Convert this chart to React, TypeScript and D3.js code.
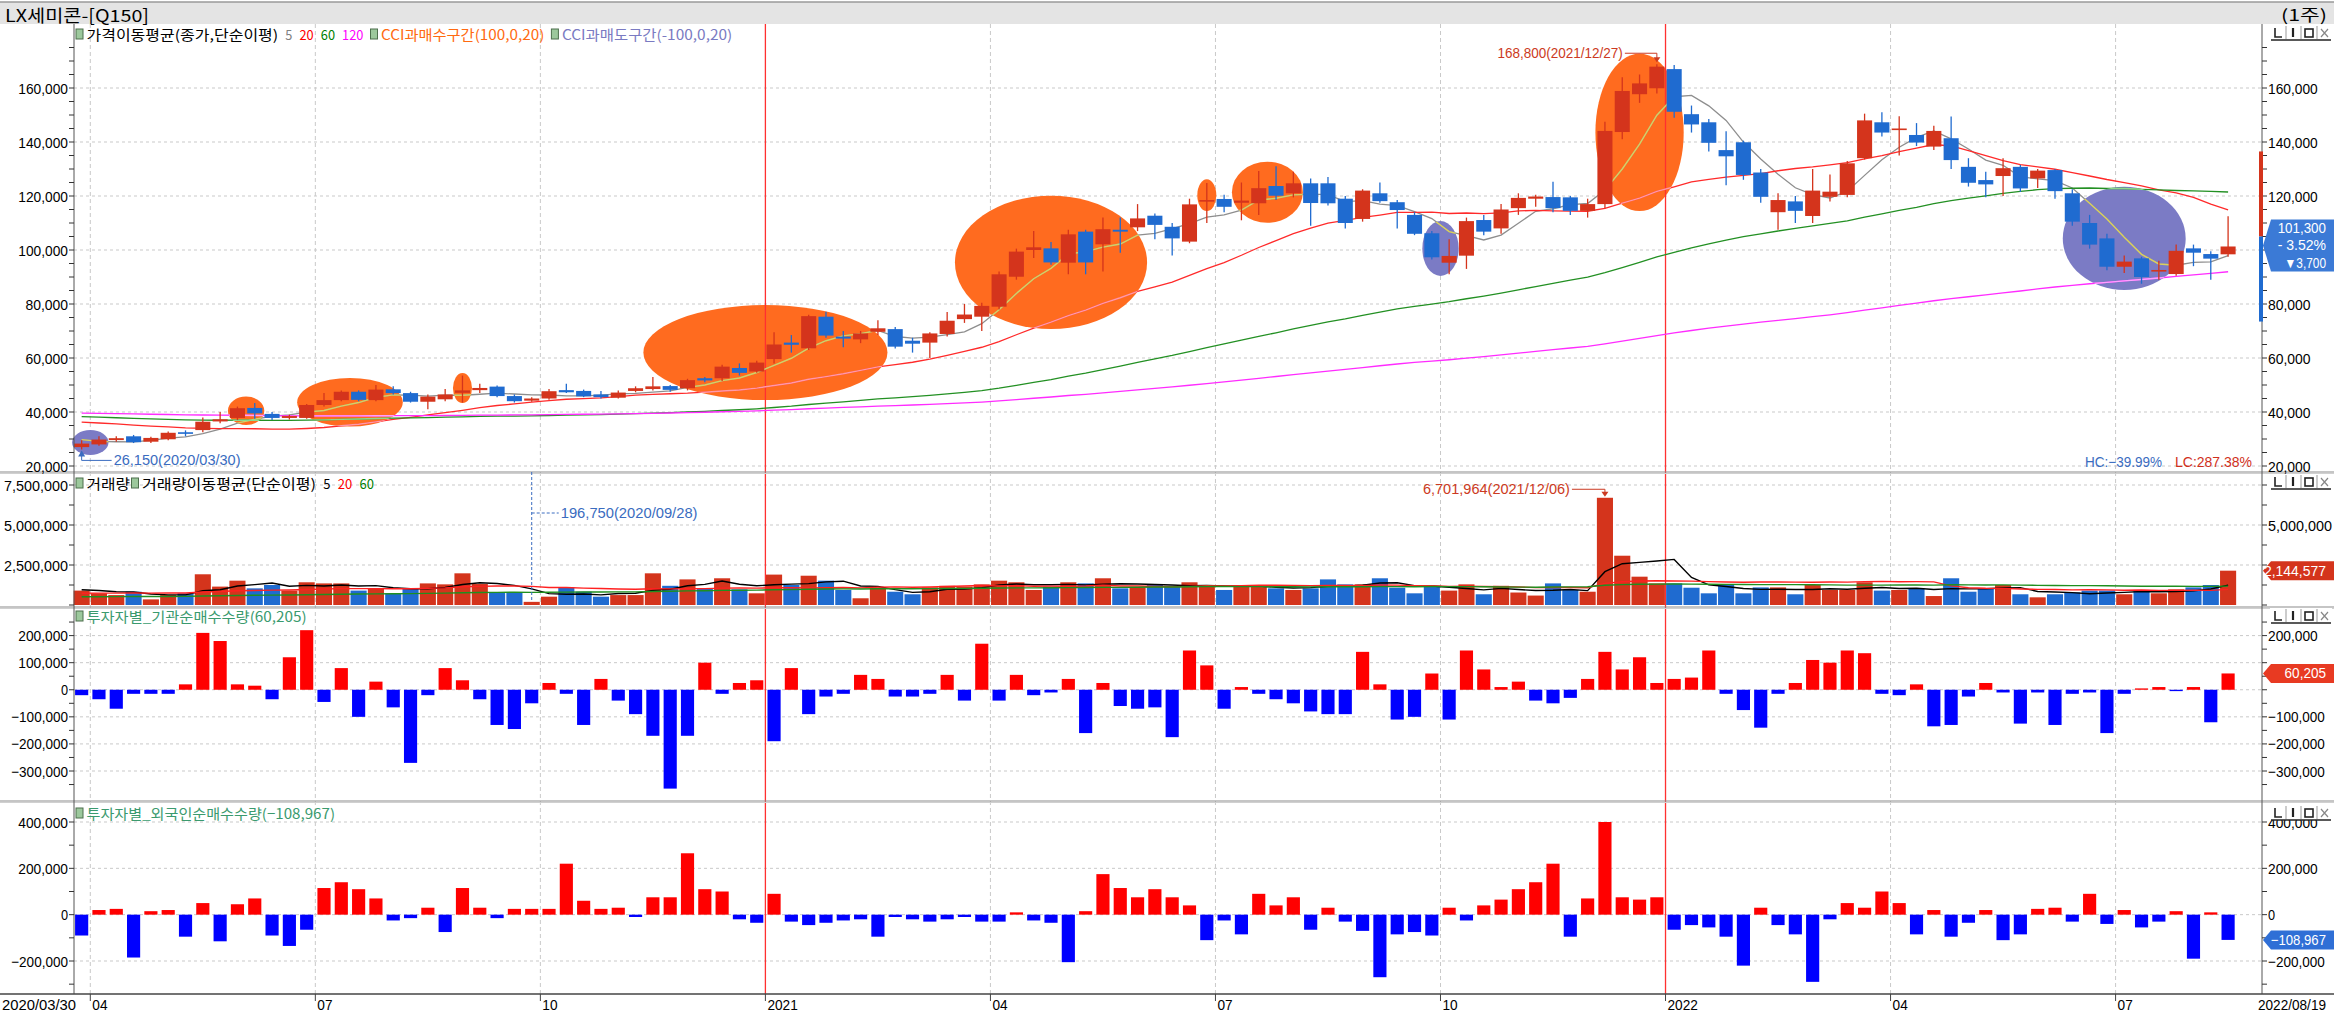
import React from "react";
import * as d3 from "d3";

// ---------------- DATA ----------------
const TITLE = "LX세미콘-[Q150]";
const PERIOD = "(1주)";
const FIRST_LABEL = "2020/03/30";
const END_LABEL = "2022/08/19";
const HIGH_DATE = "2021/12/27";
const LOW_DATE = "2020/03/30";
const VMAX_DATE = "2021/12/06";
const VMIN_DATE = "2020/09/28";

const opens = [27000,28000,29600,31000,29000,29900,32500,33300,36500,37800,
41500,39300,37800,37800,42600,44400,47500,44400,48400,47000,
43800,44700,47100,48100,49400,45900,44200,45000,48100,47800,
46500,45300,47800,48500,49600,48800,52500,52500,56300,55000,
59600,65700,63600,75300,67900,66900,69700,70700,66400,65700,
68900,74400,75300,79000,90100,100000,100600,95300,106800,102100,
107500,108400,112700,108600,103100,117900,118900,117500,117300,123700,
121000,124700,124700,119000,111500,121000,117700,113000,106200,95300,
97900,111100,108000,115500,119000,119600,119500,114500,117000,143700,
157700,159900,167000,150300,147300,137000,139900,128700,114000,118000,
112600,119700,120400,134000,147300,144500,142600,138300,141400,130800,
125900,127400,130800,126500,129600,121000,110000,104300,93800,96900,
92000,91100,100600,98500,98400];

const highs = [29500,31000,31000,31500,30800,32800,33200,38000,40000,42000,
43300,40000,39000,43000,47000,48000,48000,50000,49500,47500,
46500,48500,53500,50500,49800,46500,45500,48500,50500,48300,
47800,48000,49500,53000,50000,52300,53000,57500,58000,59000,
69500,68500,76000,77100,70000,70000,74000,71500,67500,69500,
77000,80000,80500,92000,100500,107000,103000,107500,107500,112000,
112000,117000,113500,110000,119000,124800,120500,125000,129300,131000,
129000,126500,127000,120000,122500,125000,118500,114000,107000,104000,
112000,113000,117000,121000,120500,125300,120000,119000,147500,164000,
165000,168800,168500,153500,148500,144000,140500,130000,121000,120000,
130000,128000,133000,150500,151000,149500,147000,146000,149400,134000,
129000,134000,131500,130000,130000,122500,113000,106000,98000,97500,
96000,102000,102000,99500,112500];

const lows = [26150,27500,29000,28500,28500,29500,31000,32500,35800,37000,
37500,37000,37200,37500,42000,44000,44000,44000,46500,43500,
41000,44000,43500,47000,45500,43500,43800,44500,47000,45500,
45000,45000,47300,48000,47500,48000,51000,51500,53500,54500,
58000,62000,63000,67500,64000,65500,68500,63500,62000,60000,
68000,73000,70000,78000,89000,97000,94500,91000,91000,92000,
99000,107000,104000,98000,102500,110000,114000,111000,113000,118500,
119500,109000,116500,108000,110500,117500,108000,105500,96500,91000,
93000,105500,106000,113000,116000,114000,113000,112000,115500,141000,
154500,158000,149000,143500,136500,124000,126000,117500,107500,110000,
110000,118000,119500,133500,142000,135000,138500,137000,130000,123500,
119500,120000,121500,123000,119000,109000,100500,92500,91500,87500,
89000,90500,94000,89000,97500];

const closes = [28300,29800,30300,28800,30400,32300,32000,36400,37300,41400,
39500,37800,38500,42600,44400,47500,44500,48300,47000,43800,
45700,46500,48000,48900,45900,44000,45000,47700,47300,45800,
45500,47200,48800,49500,48200,51800,51700,56800,54500,58300,
65000,64900,75500,68300,67200,69100,71000,64200,65300,69100,
73800,76100,79300,91000,99400,101000,95400,105800,95400,107700,
106800,111700,109300,104300,116900,118500,116000,118300,122900,120100,
124700,117400,117300,110000,122000,118100,114800,106000,97300,97800,
110700,106800,115000,119300,119800,115500,114500,117000,144100,158900,
161700,167900,151200,146500,139700,134700,127800,119700,118500,114500,
122000,121600,132100,148000,143500,145000,139800,144100,133300,124900,
124300,130300,122800,129400,121800,110500,102000,93800,95700,90000,
92600,99700,99000,96800,101300];

const volumes = [900000,730000,620000,830000,350000,620000,730000,1920000,1150000,1520000,
1040000,1250000,900000,1420000,1350000,1350000,900000,1040000,730000,1040000,
1350000,1290000,1980000,1310000,770000,770000,196750,520000,1100000,830000,
520000,620000,620000,1980000,1200000,1600000,1040000,1670000,980000,730000,
1900000,1250000,1830000,1520000,940000,420000,1100000,830000,670000,1100000,
1200000,1150000,1290000,1520000,1420000,940000,1150000,1420000,1350000,1670000,
1040000,1100000,1250000,1200000,1420000,1150000,940000,1200000,1200000,1040000,
940000,1040000,1600000,1290000,1290000,1670000,1080000,730000,1150000,900000,
1290000,670000,1200000,780000,590000,1350000,940000,830000,6701964,3080000,
1770000,1350000,1350000,1080000,730000,1250000,730000,1100000,1100000,670000,
1250000,940000,940000,1420000,900000,940000,1040000,560000,1670000,830000,
1000000,1250000,670000,480000,670000,790000,900000,900000,670000,940000,
730000,980000,1100000,1250000,2144577];

const instNet = [-20000,-35000,-70000,-15000,-15000,-15000,20000,210000,180000,20000,
15000,-35000,120000,220000,-45000,80000,-100000,30000,-65000,-270000,
-20000,80000,35000,-35000,-130000,-145000,-50000,25000,-15000,-130000,
40000,-40000,-90000,-170000,-365000,-170000,100000,-15000,25000,35000,
-190000,80000,-90000,-25000,-15000,55000,40000,-25000,-25000,-15000,
55000,-40000,170000,-40000,55000,-20000,-10000,40000,-160000,25000,
-60000,-70000,-65000,-175000,145000,90000,-70000,10000,-15000,-35000,
-50000,-80000,-90000,-90000,140000,20000,-110000,-100000,60000,-110000,
145000,75000,10000,30000,-40000,-50000,-30000,40000,140000,75000,
120000,25000,40000,45000,145000,-15000,-75000,-140000,-15000,25000,
110000,100000,145000,135000,-15000,-20000,20000,-135000,-130000,-25000,
25000,-10000,-125000,-10000,-130000,-15000,-10000,-160000,-15000,5000,
10000,-5000,10000,-120000,60205];

const foreignNet = [-90000,20000,25000,-185000,15000,20000,-95000,50000,-115000,45000,
70000,-90000,-135000,-65000,115000,140000,110000,70000,-25000,-15000,
30000,-75000,115000,30000,-15000,25000,25000,25000,220000,60000,
25000,30000,-10000,75000,75000,265000,110000,100000,-20000,-35000,
90000,-30000,-45000,-35000,-25000,-20000,-95000,-10000,-20000,-30000,
-20000,-10000,-30000,-30000,10000,-25000,-35000,-205000,15000,175000,
115000,75000,110000,75000,40000,-110000,-25000,-85000,90000,40000,
75000,-65000,30000,-30000,-70000,-270000,-85000,-75000,-90000,30000,
-25000,40000,65000,110000,140000,220000,-95000,70000,400000,75000,
65000,75000,-65000,-45000,-55000,-95000,-220000,30000,-45000,-85000,
-290000,-20000,50000,30000,100000,50000,-85000,20000,-95000,-35000,
20000,-110000,-85000,25000,30000,-30000,90000,-40000,20000,-55000,
-30000,15000,-190000,10000,-108967];

// weekly closes / volumes before the first visible week (needed for the moving averages)
const priorCloses = [42000,42500,43000,43500,44000,44500,45000,45500,46000,46500,47000,46500,46000,45500,45000,44500,44000,43500,43000,42500,
42000,41500,41000,40500,40000,39500,39000,38500,38000,37500,37000,36500,36000,35500,35000,35000,35500,36000,36500,37000,
37500,38000,38500,39000,39500,40000,40500,41000,41500,42000,42000,41500,41000,40500,40000,40000,40500,41000,41500,42000,
42000,42500,43000,43000,42500,42000,41500,41000,40500,40000,39500,39000,38500,38000,37500,37000,37000,37500,38000,38500,
39000,39500,40000,40500,41000,40500,40000,39500,39000,38500,38000,37500,37000,37500,38000,38500,38000,37500,37000,36500,
36500,37000,37500,38000,38500,39000,39500,40000,40500,41000,40000,39000,38000,37000,35000,33000,31000,29000,27500];
const priorVolumes = [420000,380000,450000,350000,400000,500000,360000,330000,440000,410000,390000,470000,350000,420000,380000,430000,400000,370000,460000,410000,
360000,390000,440000,400000,350000,420000,480000,380000,410000,370000,430000,390000,450000,400000,360000,420000,380000,440000,410000,390000,
550000,600000,500000,650000,580000,620000,700000,550000,600000,680000,750000,720000,800000,700000,900000,950000,1000000,900000,1000000];

const prevDayClose = 105000;
const dailyLimit = 0.3;

const priceTicks = [20000, 40000, 60000, 80000, 100000, 120000, 140000, 160000];
const volTicks = [2500000, 5000000, 7500000];
const instTicks = [-300000, -200000, -100000, 0, 100000, 200000];
const frgnTicks = [-200000, 0, 200000, 400000];

const maPeriods = [5, 20, 60, 120];
const maColors = ["#8e8e8e", "#ff2a2a", "#239023", "#ff2cff"];
const maTints = ["#d9d060", "#ff9aa8", "#8ed88e", "#ffa0ff"];
const volMaPeriods = [5, 20, 60];
const volMaColors = ["#000000", "#ff2020", "#1f8f1f"];

const cciZones = [
  { from: 0, to: 1, hi: 33300, lo: 24100, kind: "sell" },
  { from: 9, to: 10, hi: 45700, lo: 35200, kind: "buy" },
  { from: 13, to: 18, hi: 52600, lo: 34600, kind: "buy" },
  { from: 22, to: 22, hi: 54400, lo: 43300, kind: "buy" },
  { from: 33, to: 46, hi: 79600, lo: 44400, kind: "buy" },
  { from: 51, to: 61, hi: 120100, lo: 70700, kind: "buy" },
  { from: 65, to: 65, hi: 126200, lo: 114400, kind: "buy" },
  { from: 67, to: 70, hi: 132700, lo: 110100, kind: "buy" },
  { from: 78, to: 79, hi: 110700, lo: 90400, kind: "sell" },
  { from: 88, to: 92, hi: 172700, lo: 114400, kind: "buy" },
  { from: 115, to: 121, hi: 123400, lo: 85200, kind: "sell" },
];

// ---------------- LAYOUT / STYLE ----------------
const W = 2334, H = 1016;
const PL = 73, STEP = 17.31, AXL = 74, AXR = 2262;
const PANE = { price: [24, 472], vol: [472, 607], inst: [607, 801], frgn: [801, 994] };
const UP = "#d4341c", DN = "#1f6bd0";
const ORANGE = "#ff6b1f", PURPLE = "#7b7bc5";
const FONT = "'Liberation Sans', 'Noto Sans CJK KR', sans-serif";
const KFONT = "'Noto Sans CJK KR', 'Liberation Sans', sans-serif";
const GRID = "#c9c9c9";

const hu = (s) => { let n = 0; for (const ch of s) n += (ch.codePointAt(0) || 0) > 0x2e80 ? 2 : 1; return n; };

function Txt({ x, y, s, fill = "#000", size = 14.5, anchor = "start", unit = 7.15, family = FONT, weight = 400 }) {
  return (
    <text x={x} y={y} fill={fill} fontSize={size} fontFamily={family} fontWeight={weight}
      textAnchor={anchor} dominantBaseline="central" textLength={hu(s) * unit} lengthAdjust="spacingAndGlyphs">{s}</text>
  );
}

function sma(series, prior, n) {
  const all = prior.concat(series);
  const off = prior.length;
  return series.map((_, i) => d3.mean(all.slice(off + i - n + 1, off + i + 1)));
}

function Icon({ x, y }) {
  return <rect x={x} y={y - 5} width={7} height={10} fill="#9cc89c" stroke="#4d6f4d" strokeWidth={1} />;
}

function Legend({ x0, y, items, unit = 7.1 }) {
  let x = x0;
  const out = [];
  items.forEach((it, k) => {
    if (it.icon) {
      out.push(<Icon key={k} x={x} y={y} />);
      x += 10.5;
    } else {
      out.push(<Txt key={k} x={x} y={y} s={it.s} fill={it.c} unit={unit} family={KFONT} size={14} />);
      x += hu(it.s) * unit + (it.tight ? 1.5 : unit);
    }
  });
  return <g>{out}</g>;
}

function WinBtns({ y }) {
  const x0 = 2271;
  return (
    <g>
      <rect x={x0 - 1} y={y - 8} width={62} height={15} fill="#ffffff" />
      <path d={`M${x0 + 4},${y - 5}V${y + 4}H${x0 + 11}`} stroke="#222" fill="none" strokeWidth={1.6} />
      <line x1={x0 + 15} x2={x0 + 15} y1={y - 7} y2={y + 6} stroke="#999" />
      <line x1={x0 + 22} x2={x0 + 22} y1={y - 5} y2={y + 4} stroke="#222" strokeWidth={2.2} />
      <line x1={x0 + 30} x2={x0 + 30} y1={y - 7} y2={y + 6} stroke="#999" />
      <rect x={x0 + 34} y={y - 4} width={8} height={8} fill="none" stroke="#222" strokeWidth={1.6} />
      <line x1={x0 + 46} x2={x0 + 46} y1={y - 7} y2={y + 6} stroke="#999" />
      <path d={`M${x0 + 50},${y - 4}L${x0 + 57},${y + 4}M${x0 + 57},${y - 4}L${x0 + 50},${y + 4}`} stroke="#888" strokeWidth={1.2} />
      <line x1={x0} x2={x0 + 60} y1={y + 7} y2={y + 7} stroke="#222" strokeWidth={1.3} />
    </g>
  );
}

function ValueBox({ y, h, fill, lines, size = 14.5 }) {
  const x0 = 2263, x1 = 2334;
  const pts = [[x0, y], [x0 + 8, y - h / 2], [x1, y - h / 2], [x1, y + h / 2], [x0 + 8, y + h / 2]];
  const lh = h / lines.length;
  return (
    <g>
      <polygon points={pts.map((p) => p.join(",")).join(" ")} fill={fill} />
      {lines.map((s, k) => (
        <Txt key={k} x={2326} y={y - h / 2 + lh * (k + 0.5)} s={s} fill="#fff" anchor="end" unit={6.9} size={size} />
      ))}
    </g>
  );
}

export default function App() {
  const N = closes.length;
  const x = d3.scaleBand().domain(d3.range(N)).range([PL, PL + STEP * N]).paddingInner(0.13).paddingOuter(0.065);
  const xv = x.copy().paddingInner(0.07).paddingOuter(0.035);
  const xi = x.copy().paddingInner(0.24).paddingOuter(0.12);
  const cx = (i) => x(i) + x.bandwidth() / 2;

  const yP = d3.scaleLinear().domain([20000, 160000]).range([466, 88]);
  const yV = d3.scaleLinear().domain([0, 7500000]).range([605, 485]);
  const yI = d3.scaleLinear().domain([-300000, 200000]).range([771, 635.6]);
  const yF = d3.scaleLinear().domain([-200000, 400000]).range([961, 822]);

  const fmt = d3.format(",");
  const pct = d3.format(".2f");

  const maP = maPeriods.map((n) => sma(closes, priorCloses, n));
  const maV = volMaPeriods.map((n) => sma(volumes, priorVolumes, n));
  const lineP = d3.line().x((_, i) => cx(i)).y((v) => yP(v));
  const lineV = d3.line().x((_, i) => cx(i)).y((v) => yV(v));

  const start = new Date(2020, 2, 30, 12);
  const dates = d3.range(N).map((i) => d3.timeDay.offset(start, 7 * i));
  const monthTicks = d3.range(1, N)
    .filter((i) => dates[i].getMonth() !== dates[i - 1].getMonth() && dates[i].getMonth() % 3 === 0)
    .map((i) => ({
      i,
      gx: cx(i) - STEP / 2,
      label: dates[i].getMonth() === 0 ? String(dates[i].getFullYear()) : d3.format("02")(dates[i].getMonth() + 1),
      year: dates[i].getMonth() === 0,
    }));

  const iHigh = d3.maxIndex(highs);
  const iLow = d3.minIndex(lows);
  const iVmax = d3.maxIndex(volumes);
  const iVmin = d3.minIndex(volumes);
  const last = closes[N - 1];
  const hc = (last - highs[iHigh]) / highs[iHigh] * 100;
  const lc = (last - lows[iLow]) / lows[iLow] * 100;
  const chg = last - prevDayClose;
  const chgPct = chg / prevDayClose * 100;

  const isUp = (i) => closes[i] >= opens[i];

  const zones = cciZones.map((z) => ({
    ...z,
    ex: (cx(z.from) + cx(z.to)) / 2,
    erx: (cx(z.to) - cx(z.from)) / 2 + STEP * 0.55,
    ey: (yP(z.hi) + yP(z.lo)) / 2,
    ery: (yP(z.lo) - yP(z.hi)) / 2,
  }));

  const boxes = {
    price: { y: yP(last) - 1, h: 52 },
    vol: { y: yV(volumes[N - 1]), h: 19 },
    inst: { y: yI(instNet[N - 1]), h: 19 },
    frgn: { y: yF(foreignNet[N - 1]), h: 19 },
  };
  const hidden = (yy, b) => Math.abs(yy - b.y) < b.h / 2 + 7;

  const minorP = d3.range(20000, 175001, 5000);
  const minorV = d3.range(0, 8750001, 1250000).filter((v) => yV(v) > PANE.vol[0] + 4);
  const minorI = d3.range(-350000, 250001, 50000).filter((v) => yI(v) > PANE.inst[0] + 4 && yI(v) < PANE.inst[1] - 2);
  const minorF = d3.range(-300000, 400001, 100000).filter((v) => yF(v) > PANE.frgn[0] + 4 && yF(v) < PANE.frgn[1] - 2);

  const hGrid = (ys, key) => ys.map((yy, k) => (
    <line key={key + k} x1={AXL} x2={AXR} y1={yy} y2={yy} stroke={GRID} strokeDasharray="3,3" />
  ));

  const yTickSet = (vals, scale, labels, key, box, rightHide = []) => (
    <g key={key}>
      {vals.map((v, k) => (
        <g key={k}>
          <line x1={AXL - 5} x2={AXL} y1={scale(v)} y2={scale(v)} stroke="#333" />
          <line x1={AXR} x2={AXR + 5} y1={scale(v)} y2={scale(v)} stroke="#333" />
        </g>
      ))}
      {labels.map((v, k) => (
        <g key={"l" + k}>
          <Txt x={AXL - 6} y={scale(v)} s={fmt(v)} anchor="end" unit={7.1} size={15} />
          {rightHide.includes(v) || hidden(scale(v), box) ? null : <Txt x={AXR + 6} y={scale(v)} s={fmt(v)} unit={7.1} size={15} />}
        </g>
      ))}
    </g>
  );

  const xHighC = cx(iHigh), yHighC = yP(highs[iHigh]);
  const xLowC = cx(iLow), yLowC = yP(lows[iLow]);
  const xVmax = cx(iVmax), yVmax = yV(volumes[iVmax]);
  const xVmin = cx(iVmin);

  const hiLabel = `${fmt(highs[iHigh])}(${HIGH_DATE})`;
  const loLabel = `${fmt(lows[iLow])}(${LOW_DATE})`;
  const vmaxLabel = `${fmt(volumes[iVmax])}(${VMAX_DATE})`;
  const vminLabel = `${fmt(volumes[iVmin])}(${VMIN_DATE})`;

  return (
    <svg width={W} height={H} viewBox={`0 0 ${W} ${H}`} style={{ position: "fixed", left: 0, top: 0, background: "#fff" }}>
      <defs>
        <clipPath id="zoneClip">
          {zones.map((z, k) => <ellipse key={k} cx={z.ex} cy={z.ey} rx={z.erx} ry={z.ery} />)}
        </clipPath>
      </defs>
      <rect x={0} y={0} width={W} height={H} fill="#fff" />
      {/* header */}
      <rect x={0} y={2} width={W} height={22} fill="#e4e4e4" />
      <line x1={0} x2={W} y1={2} y2={2} stroke="#9a9a9a" strokeWidth={1.5} />
      <Txt x={5} y={14} s={TITLE} unit={9.6} size={17} family={KFONT} />
      <Txt x={2327} y={14} s={PERIOD} anchor="end" unit={9.2} size={16} family={KFONT} />

      {/* grids */}
      {hGrid(priceTicks.map(yP), "gp")}
      {hGrid(volTicks.map(yV), "gv")}
      {hGrid(instTicks.map(yI), "gi")}
      {hGrid(frgnTicks.map(yF), "gf")}
      {monthTicks.filter((t) => !t.year).map((t, k) => (
        <line key={"vg" + k} x1={t.gx} x2={t.gx} y1={PANE.price[0]} y2={PANE.frgn[1]} stroke={GRID} strokeDasharray="4,3" />
      ))}

      {/* CCI zones */}
      {zones.map((z, k) => (
        <ellipse key={"z" + k} cx={z.ex} cy={z.ey} rx={z.erx} ry={z.ery} fill={z.kind === "buy" ? ORANGE : PURPLE} />
      ))}

      {/* year lines */}
      {monthTicks.filter((t) => t.year).map((t, k) => (
        <line key={"yl" + k} x1={t.gx} x2={t.gx} y1={PANE.price[0]} y2={PANE.frgn[1]} stroke="#ff3030" strokeWidth={1.3} />
      ))}

      {/* price MAs */}
      {maP.map((m, k) => (
        <path key={"ma" + k} d={lineP(m)} fill="none" stroke={maColors[k]} strokeWidth={1.3} />
      ))}
      <g clipPath="url(#zoneClip)">
        {maP.map((m, k) => (
          <path key={"mt" + k} d={lineP(m)} fill="none" stroke={maTints[k]} strokeWidth={1.4} />
        ))}
      </g>

      {/* candles */}
      {closes.map((c, i) => {
        const o = opens[i];
        const col = isUp(i) ? UP : DN;
        const yt = yP(Math.max(o, c)), yb = yP(Math.min(o, c));
        return (
          <g key={"c" + i}>
            <line x1={cx(i)} x2={cx(i)} y1={yP(highs[i])} y2={yP(lows[i])} stroke={col} strokeWidth={1.3} />
            <rect x={x(i)} y={yt} width={x.bandwidth()} height={Math.max(1.6, yb - yt)} fill={col} />
          </g>
        );
      })}

      {/* volume bars */}
      {volumes.map((v, i) => (
        <rect key={"v" + i} x={xv(i)} y={yV(v)} width={xv.bandwidth()} height={yV(0) - yV(v)} fill={isUp(i) ? UP : DN} />
      ))}
      {maV.map((m, k) => (
        <path key={"vm" + k} d={lineV(m)} fill="none" stroke={volMaColors[k]} strokeWidth={1.4} />
      ))}

      {/* institution */}
      {instNet.map((v, i) => (
        <rect key={"in" + i} x={xi(i)} y={Math.min(yI(v), yI(0))} width={xi.bandwidth()} height={Math.abs(yI(v) - yI(0))} fill={v >= 0 ? "#ff0000" : "#0000ff"} />
      ))}
      {/* foreign */}
      {foreignNet.map((v, i) => (
        <rect key={"fr" + i} x={xi(i)} y={Math.min(yF(v), yF(0))} width={xi.bandwidth()} height={Math.abs(yF(v) - yF(0))} fill={v >= 0 ? "#ff0000" : "#0000ff"} />
      ))}

      {/* pane separators and axes */}
      {[PANE.price[1], PANE.vol[1], PANE.inst[1]].map((yy, k) => (
        <g key={"sep" + k}>
          <line x1={0} x2={W} y1={yy} y2={yy} stroke="#8c8c8c" strokeWidth={1.2} />
          <line x1={0} x2={W} y1={yy + 1.5} y2={yy + 1.5} stroke="#d0d0d0" strokeWidth={1} />
        </g>
      ))}
      <line x1={AXL} x2={AXL} y1={PANE.price[0]} y2={PANE.frgn[1]} stroke="#555" />
      <line x1={AXR} x2={AXR} y1={PANE.price[0]} y2={PANE.frgn[1]} stroke="#555" />
      <line x1={0} x2={W} y1={PANE.frgn[1]} y2={PANE.frgn[1]} stroke="#444" strokeWidth={1.5} />

      {/* y axes */}
      {yTickSet(minorP, yP, priceTicks, "tp", boxes.price)}
      {yTickSet(minorV, yV, volTicks, "tv", boxes.vol, [7500000])}
      {yTickSet(minorI, yI, instTicks, "ti", boxes.inst)}
      {yTickSet(minorF, yF, frgnTicks, "tf", boxes.frgn)}

      {/* x axis */}
      <Txt x={2} y={1005} s={FIRST_LABEL} unit={7.4} size={14.5} />
      {monthTicks.map((t, k) => (
        <g key={"xt" + k}>
          <line x1={t.gx} x2={t.gx} y1={PANE.frgn[1]} y2={PANE.frgn[1] + 7} stroke="#444" />
          <Txt x={t.gx + 2} y={1005} s={t.label} unit={7.6} size={14.5} />
        </g>
      ))}
      <Txt x={2326} y={1005} s={END_LABEL} anchor="end" unit={6.8} size={14.5} />

      {/* legends */}
      <Legend x0={76} y={34} items={[
        { icon: true }, { s: "가격이동평균(종가,단순이평)", c: "#000" }, { s: "5", c: "#808080" }, { s: "20", c: "#ff0000" },
        { s: "60", c: "#008000" }, { s: "120", c: "#ff00ff" }, { icon: true }, { s: "CCI과매수구간(100,0,20)", c: "#ff6a10" },
        { icon: true }, { s: "CCI과매도구간(-100,0,20)", c: "#7a7ac2" },
      ]} />
      <Legend x0={76} y={483} items={[
        { icon: true }, { s: "거래량", c: "#000", tight: true }, { icon: true }, { s: "거래량이동평균(단순이평)", c: "#000" },
        { s: "5", c: "#000" }, { s: "20", c: "#ff0000" }, { s: "60", c: "#008000" },
      ]} unit={7.25} />
      <Legend x0={76} y={616} items={[{ icon: true }, { s: `투자자별_기관순매수수량(${fmt(instNet[N - 1])})`, c: "#3a9a6e" }]} />
      <Legend x0={76} y={813} items={[{ icon: true }, { s: `투자자별_외국인순매수수량(${fmt(foreignNet[N - 1])})`, c: "#3a9a6e" }]} />

      {/* annotations */}
      <g>
        <Txt x={xHighC - 34} y={yHighC - 11} s={hiLabel} anchor="end" fill="#cc3a22" unit={6.6} size={14} />
        <path d={`M${xHighC - 32},${yHighC - 11}H${xHighC}V${yHighC - 3}`} fill="none" stroke="#cc3a22" />
        <path d={`M${xHighC - 3.5},${yHighC - 7}L${xHighC + 3.5},${yHighC - 7}L${xHighC},${yHighC - 2}Z`} fill="#cc3a22" />
      </g>
      <g>
        <path d={`M${xLowC},${yLowC + 2}V${yLowC + 11}H${xLowC + 30}`} fill="none" stroke="#3a6cc0" />
        <path d={`M${xLowC - 3.5},${yLowC + 7}L${xLowC + 3.5},${yLowC + 7}L${xLowC},${yLowC + 1}Z`} fill="#3a6cc0" />
        <Txt x={xLowC + 32} y={yLowC + 11} s={loLabel} fill="#3a6cc0" unit={7.05} size={14} />
      </g>
      <g>
        <line x1={xVmin} x2={xVmin} y1={PANE.vol[0]} y2={yV(volumes[iVmin]) - 1} stroke="#3a6cc0" strokeDasharray="3,2" />
        <line x1={xVmin} x2={xVmin + 27} y1={513} y2={513} stroke="#3a6cc0" strokeDasharray="3,2" />
        <Txt x={xVmin + 29} y={513} s={vminLabel} fill="#3a6cc0" unit={7.2} size={14} />
      </g>
      <g>
        <Txt x={xVmax - 35} y={yVmax - 8.5} s={vmaxLabel} anchor="end" fill="#cc3a22" unit={7.0} size={14} />
        <path d={`M${xVmax - 33},${yVmax - 8.5}H${xVmax}V${yVmax - 3}`} fill="none" stroke="#cc3a22" />
        <path d={`M${xVmax - 3.5},${yVmax - 6}L${xVmax + 3.5},${yVmax - 6}L${xVmax},${yVmax - 1}Z`} fill="#cc3a22" />
      </g>
      <Txt x={2162} y={462} s={`HC:${pct(hc)}%`} anchor="end" fill="#3a6cc0" unit={7.7} size={14.5} />
      <Txt x={2252} y={462} s={`LC:${pct(lc)}%`} anchor="end" fill="#d0301c" unit={7.7} size={14.5} />

      {/* daily limit bar */}
      <rect x={2259} y={yP(prevDayClose * (1 + dailyLimit))} width={4} height={yP(prevDayClose) - yP(prevDayClose * (1 + dailyLimit))} fill="#d4341c" />
      <rect x={2259} y={yP(prevDayClose)} width={4} height={yP(prevDayClose * (1 - dailyLimit)) - yP(prevDayClose)} fill="#1f6bd0" />

      {/* value boxes */}
      <ValueBox y={boxes.price.y} h={boxes.price.h} fill="#3b7ad6" size={14} lines={[fmt(last), `- ${pct(Math.abs(chgPct))}%`, `▼${fmt(Math.abs(chg))}`]} />
      <ValueBox y={boxes.vol.y} h={boxes.vol.h} fill="#d4341c" lines={[fmt(volumes[N - 1])]} />
      <ValueBox y={boxes.inst.y} h={boxes.inst.h} fill="#e83a22" lines={[fmt(instNet[N - 1])]} />
      <ValueBox y={boxes.frgn.y} h={boxes.frgn.h} fill="#2f6fd6" lines={[fmt(foreignNet[N - 1])]} />

      {/* window buttons */}
      <WinBtns y={33} />
      <WinBtns y={482} />
      <WinBtns y={616} />
      <WinBtns y={813} />
    </svg>
  );
}
